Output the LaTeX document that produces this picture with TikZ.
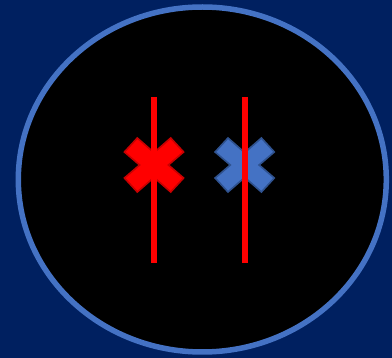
\documentclass[tikz,border=0pt]{standalone}
\definecolor{navybg}{HTML}{002060}
\definecolor{ringblue}{HTML}{4472C4}
\definecolor{edgeblue}{HTML}{2F528F}
\definecolor{edgered}{HTML}{C80000}
\begin{document}
\begin{tikzpicture}[
    x=1pt, y=-1pt,
    line join=miter,
    strand/.style={draw=red, line width=6pt},
    xmark/.style={line width=1.6pt},
]

% 参数
\def\Cy{165}     % 十字中心高度

% 两条竖线的端点
\coordinate (Atop) at (154,97);
\coordinate (Abot) at (154,263);
\coordinate (Btop) at (245,97);
\coordinate (Bbot) at (245,263);

% ---- 背景 ----
\fill[navybg] (0,0) rectangle (392,358);
\useasboundingbox (0,0) rectangle (392,358);

% ---- 外圈（黑色椭圆） ----
\filldraw[fill=black, draw=ringblue, line width=5.5pt]
    (202.3,179.5) ellipse [x radius=184, y radius=172.5];

% ---- 两个叉号 ----
\foreach \cx/\fc/\dc in {154/red/edgered, 244.7/ringblue/edgeblue}{
    \filldraw[fill=\fc, draw=\dc, xmark, shift={(\cx,\Cy)}]
        (-29.6,-13) -- (-16.7,-27) -- (0,-12.4) -- (16.7,-27) -- (29.6,-13)
        -- (14.4,0) -- (29.6,13) -- (16.7,27) -- (0,12.4) -- (-16.7,27)
        -- (-29.6,13) -- (-14.4,0) -- cycle;
}

% ---- 竖线（压在叉号上） ----
\draw[strand] (Atop) -- (Abot);
\draw[strand] (Btop) -- (Bbot);

\end{tikzpicture}
\end{document}
